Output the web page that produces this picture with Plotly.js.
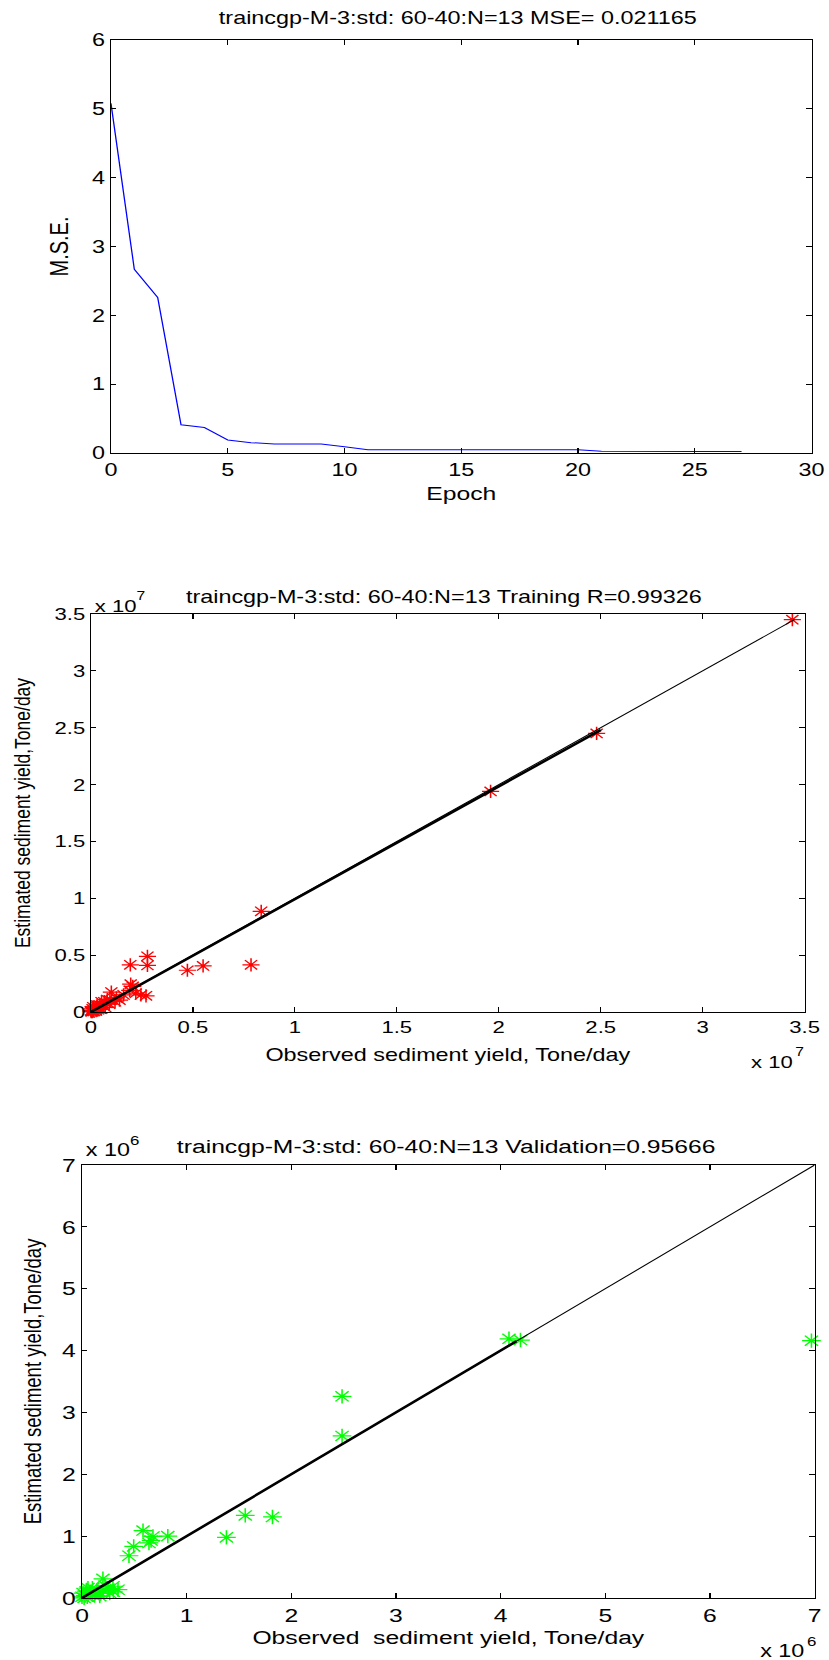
<!DOCTYPE html>
<html><head><meta charset="utf-8">
<script src="https://cdn.plot.ly/plotly-3.0.1.min.js"></script>
<style>
html,body{margin:0;padding:0;background:#fff;overflow:hidden}
#wrap{width:829px;height:1660px;overflow:hidden}
#chart{width:638px;height:1660px;transform:scaleX(1.2994);transform-origin:0 0}
</style></head><body><div id="wrap"><div id="chart"></div></div>
<script>
// ---- Plot 1: training error per epoch ----
const epochs = [0,1,2,3,4,5,6,7,8,9,10,11,12,13,14,15,16,17,18,19,20,21,22,23,24,25,26,27];
const mseValues = [5.08,2.67,2.26,0.41,0.37,0.19,0.15,0.13,0.13,0.13,0.09,0.046,0.046,0.046,0.046,0.046,0.046,0.046,0.046,0.046,0.046,0.025,0.022,0.022,0.022,0.022,0.021,0.021];
const epochTicks = [0,5,10,15,20,25,30];
const mseTicks = [0,1,2,3,4,5,6];

// ---- Plot 2: training observed vs estimated (Tone/day) ----
const trainObserved = [3.44e7,2.48e7,1.96e7,0.835e7,0.785e7,0.55e7,0.473e7,0.277e7,0.277e7,0.193e7,0.27e7,0.195e7,0.205e7,0.22e7,0.19e7,0.245e7,0.10e7,0.14e7,0.118e7,0.076e7,0.052e7,0.044e7,0.028e7,0.02e7,0.011e7,0.006e7,0.003e7,0.06e7,0.093e7,0.011e7,0.002e7,0.035e7,0.015e7,0.04e7,0.07e7,0.08e7,0.125e7,0.16e7,0.03e7,0.05e7,0.09e7,0.0,0.008e7,0.025e7,0.065e7];
const trainEstimated = [3.45e7,2.45e7,1.94e7,0.885e7,0.415e7,0.405e7,0.367e7,0.49e7,0.41e7,0.415e7,0.142e7,0.245e7,0.225e7,0.165e7,0.19e7,0.15e7,0.175e7,0.105e7,0.09e7,0.075e7,0.09e7,0.06e7,0.045e7,0.03e7,0.015e7,0.002e7,0.009e7,0.06e7,0.105e7,0.045e7,0.002e7,0.02e7,0.005e7,0.035e7,0.04e7,0.11e7,0.125e7,0.15e7,0.06e7,0.025e7,0.07e7,0.01e7,0.028e7,0.012e7,0.09e7];
const trainIdealX = [0, 3.45e7];
const trainIdealY = [0, 3.45e7];
const trainFitX = [0, 2.5e7];
const trainFitY = [0, 2.48e7];
const trainTickVals = [0,0.5e7,1e7,1.5e7,2e7,2.5e7,3e7,3.5e7];
const trainTickText = ['0','0.5','1','1.5','2','2.5','3','3.5'];
const trainExponent = '7';

// ---- Plot 3: validation observed vs estimated (Tone/day) ----
const valObserved = [6.97e6,4.08e6,4.19e6,2.485e6,2.485e6,1.56e6,1.82e6,1.38e6,0.82e6,0.583e6,0.678e6,0.64e6,0.66e6,0.494e6,0.449e6,0.2e6,0.296e6,0.344e6,0.265e6,0.137e6,0.057e6,0.01e6,0.1e6,0.05e6,0.02e6,0.15e6,0.2e6,0.25e6,0.08e6,0.03e6,0.12e6,0.18e6,0.0,0.06e6,0.22e6,0.3e6,0.04e6,0.1e6,0.005e6,0.17e6];
const valEstimated = [4.16e6,4.19e6,4.17e6,3.26e6,2.62e6,1.335e6,1.31e6,0.98e6,1.0e6,1.09e6,0.995e6,0.89e6,0.93e6,0.834e6,0.683e6,0.31e6,0.19e6,0.134e6,0.08e6,0.107e6,0.16e6,0.08e6,0.05e6,0.02e6,0.0,0.12e6,0.12e6,0.15e6,0.1e6,0.04e6,0.04e6,0.08e6,0.02e6,0.06e6,0.2e6,0.1e6,0.11e6,0.16e6,-0.02e6,0.03e6];
const valIdealX = [0, 7e6];
const valIdealY = [0, 7e6];
const valFitX = [0, 4.15e6];
const valFitY = [0, 4.15e6];
const valTickVals = [0,1e6,2e6,3e6,4e6,5e6,6e6,7e6];
const valTickText = ['0','1','2','3','4','5','6','7'];
const valExponent = '6';

const FONT = 'Liberation Sans, Arial, sans-serif';
const W = 638, H = 1660;
const px = v => v / W;
const py = v => 1 - v / H;

function axisStyle(extra, fs, tl, titleText, titleSize, standoff) {
  return Object.assign({
    showline: true, linecolor: '#000', linewidth: 1, mirror: 'ticks',
    ticks: 'inside', ticklen: tl, tickwidth: 1, tickcolor: '#000',
    showgrid: false, zeroline: false, fixedrange: true, automargin: false,
    tickfont: {family: FONT, size: fs, color: '#000'},
    title: {text: titleText, standoff: standoff, font: {family: FONT, size: titleSize, color: '#000'}}
  }, extra);
}

const traces = [
  {x: epochs, y: mseValues, type: 'scatter', mode: 'lines', xaxis: 'x', yaxis: 'y',
   line: {color: '#0000ff', width: 1}},
  {x: trainObserved, y: trainEstimated, type: 'scatter', mode: 'markers', xaxis: 'x2', yaxis: 'y2',
   cliponaxis: false, marker: {symbol: 'asterisk-open', size: 11, color: '#ff0000', line: {color: '#ff0000', width: 1.2}}},
  {x: trainIdealX, y: trainIdealY, type: 'scatter', mode: 'lines', xaxis: 'x2', yaxis: 'y2',
   line: {color: '#000', width: 1}},
  {x: trainFitX, y: trainFitY, type: 'scatter', mode: 'lines', xaxis: 'x2', yaxis: 'y2',
   line: {color: '#000', width: 2.4}},
  {x: valObserved, y: valEstimated, type: 'scatter', mode: 'markers', xaxis: 'x3', yaxis: 'y3',
   cliponaxis: false, marker: {symbol: 'asterisk-open', size: 12, color: '#00ff00', line: {color: '#00ff00', width: 1.2}}},
  {x: valIdealX, y: valIdealY, type: 'scatter', mode: 'lines', xaxis: 'x3', yaxis: 'y3',
   line: {color: '#000', width: 1}},
  {x: valFitX, y: valFitY, type: 'scatter', mode: 'lines', xaxis: 'x3', yaxis: 'y3',
   line: {color: '#000', width: 2.4}}
];

function ann(text, x, y, size, opts) {
  return Object.assign({text: text, xref: 'paper', yref: 'paper', x: x, y: y,
    xanchor: 'center', yanchor: 'middle', showarrow: false,
    font: {family: FONT, size: size, color: '#000'}}, opts || {});
}

const layout = {
  width: W, height: H,
  margin: {l: 0, r: 0, t: 0, b: 0, pad: 0},
  paper_bgcolor: '#fff', plot_bgcolor: '#fff', showlegend: false,
  title: {text: 'traincgp-M-3:std: 60-40:N=13 MSE= 0.021165', xref: 'paper', yref: 'paper',
          x: px(352.3), y: py(18), xanchor: 'center', yanchor: 'middle',
          font: {family: FONT, size: 18, color: '#000'}},
  xaxis: axisStyle({domain: [px(85.4), px(624.6)], range: [0, 30], tickvals: epochTicks, anchor: 'y'}, 18, 5, 'Epoch', 19, 8),
  yaxis: axisStyle({domain: [py(453), py(40)], range: [0, 6], tickvals: mseTicks, anchor: 'x'}, 18, 4, 'M.S.E.', 20, 12),
  xaxis2: axisStyle({domain: [px(70), px(619.2)], range: [0, 3.5e7], tickvals: trainTickVals, ticktext: trainTickText, anchor: 'y2'}, 17, 5, 'Observed sediment yield, Tone/day', 18, 12),
  yaxis2: axisStyle({domain: [py(1012), py(614)], range: [0, 3.5e7], tickvals: trainTickVals, ticktext: trainTickText, anchor: 'x2'}, 17, 4, 'Estimated sediment yield,Tone/day', 17.5, 13),
  xaxis3: axisStyle({domain: [px(63.1), px(626.9)], range: [0, 7e6], tickvals: valTickVals, ticktext: valTickText, anchor: 'y3'}, 19, 5, 'Observed  sediment yield, Tone/day', 19, 5),
  yaxis3: axisStyle({domain: [py(1598), py(1165)], range: [0, 7e6], tickvals: valTickVals, ticktext: valTickText, anchor: 'x3'}, 19, 4, 'Estimated sediment yield,Tone/day', 18.5, 10),
  annotations: [
    ann('traincgp-M-3:std: 60-40:N=13 Training R=0.99326', px(341.5), py(597), 18),
    ann('x 10', px(70.8), py(606), 17, {xanchor: 'left'}),
    ann(trainExponent, px(103.3), py(596), 12, {xanchor: 'left'}),
    ann('x 10', px(612.2), py(1062), 17, {xanchor: 'right'}),
    ann(trainExponent, px(609.8), py(1052), 12, {xanchor: 'left'}),
    ann('traincgp-M-3:std: 60-40:N=13 Validation=0.95666', px(343.8), py(1146), 19),
    ann('x 10', px(63.8), py(1150), 18, {xanchor: 'left'}),
    ann(valExponent, px(98), py(1140), 13, {xanchor: 'left'}),
    ann('x 10', px(621), py(1651), 18, {xanchor: 'right'}),
    ann(valExponent, px(618.6), py(1641), 13, {xanchor: 'left'})
  ]
};

Plotly.newPlot('chart', traces, layout, {staticPlot: true, displayModeBar: false, responsive: false});
</script>
</body></html>
